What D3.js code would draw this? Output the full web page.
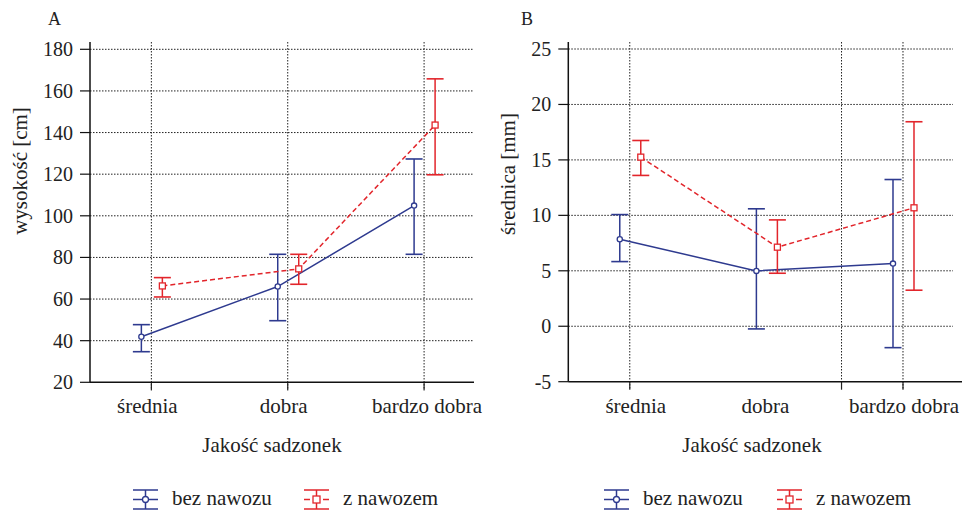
<!DOCTYPE html>
<html>
<head>
<meta charset="utf-8">
<script src="https://cdn.jsdelivr.net/npm/d3@7"></script>
<style>
  body{margin:0;background:#fff;}
  svg text{font-family:"Liberation Serif","Times New Roman",Times,"DejaVu Serif",serif;fill:#222;}
</style>
</head>
<body>
<svg width="962" height="510"></svg>
<script>
// data
const categories=['średnia','dobra','bardzo dobra'];
const seriesNames=['bez nawozu','z nawozem'];

const heightBez=[41.9,66.0,104.9];
const heightBezLo=[34.7,49.6,81.5];
const heightBezHi=[47.7,81.5,127.3];
const heightZ=[66.3,74.5,143.6];
const heightZLo=[61.0,67.1,119.7];
const heightZHi=[70.3,81.5,165.8];

const diaBez=[7.85,4.99,5.65];
const diaBezLo=[5.83,-0.24,-1.93];
const diaBezHi=[10.07,10.59,13.23];
const diaZ=[15.25,7.13,10.68];
const diaZLo=[13.6,4.78,3.25];
const diaZHi=[16.75,9.59,18.44];

const heightTicks=[20,40,60,80,100,120,140,160,180];
const diaTicks=[-5,0,5,10,15,20,25];
// vertical grid positions (category index); panel B grid is offset in the original
const gridA=[0,1,2];
const gridB=[0,1.55,2];

const blue='#2e3a8f', red='#e2252b';
const FONT='"Liberation Serif","Times New Roman",Times,"DejaVu Serif",serif';
const svg=d3.select('svg');

const panel=(o)=>{
  const g=svg.append('g').attr('font-family',FONT);
  const x=d3.scaleLinear().domain([-0.45,2.366]).range([o.left,o.right]);
  const y=d3.scaleLinear().domain(o.domain).range([o.bottom,o.top]);

  // grid
  g.selectAll('.hg').data(o.ticks.slice(1)).enter().append('line')
    .attr('x1',o.left).attr('x2',o.right)
    .attr('y1',d=>y(d)).attr('y2',d=>y(d))
    .attr('stroke','#222').attr('stroke-width',1).attr('stroke-dasharray','1.5,1.5');
  g.selectAll('.vg').data(o.grid).enter().append('line')
    .attr('x1',d=>x(d)).attr('x2',d=>x(d))
    .attr('y1',o.axisTop).attr('y2',o.bottom+8)
    .attr('stroke','#222').attr('stroke-width',1).attr('stroke-dasharray','1.5,1.5');
  g.selectAll('.xt').data(o.grid).enter().append('line')
    .attr('x1',d=>x(d)).attr('x2',d=>x(d))
    .attr('y1',o.bottom).attr('y2',o.bottom+8)
    .attr('stroke','#222').attr('stroke-width',1.2);

  // axes
  g.append('line').attr('x1',o.left).attr('x2',o.left).attr('y1',o.axisTop).attr('y2',o.bottom)
    .attr('stroke','#111').attr('stroke-width',1.5);
  g.append('line').attr('x1',o.left).attr('x2',o.axisRight).attr('y1',o.bottom).attr('y2',o.bottom)
    .attr('stroke','#111').attr('stroke-width',1.5);
  g.selectAll('.yt').data(o.ticks).enter().append('line')
    .attr('x1',o.left-10).attr('x2',o.left)
    .attr('y1',d=>y(d)).attr('y2',d=>y(d))
    .attr('stroke','#111').attr('stroke-width',1.2);
  g.selectAll('.yl').data(o.ticks).enter().append('text')
    .attr('x',o.left-17).attr('y',d=>y(d)+7)
    .attr('text-anchor','end').attr('font-size',20)
    .text(d=>d);

  g.selectAll('.xl').data(categories).enter().append('text')
    .attr('x',(d,i)=>x(i)+o.labelShift[i]).attr('y',o.bottom+31)
    .attr('text-anchor','middle').attr('font-size',21)
    .text(d=>d);

  g.append('text').attr('x',o.xTitleX).attr('y',o.bottom+70)
    .attr('text-anchor','middle').attr('font-size',21).text('Jakość sadzonek');
  g.append('text').attr('transform',`translate(${o.yTitleX},${o.yTitleY}) rotate(-90)`)
    .attr('text-anchor','middle').attr('dy','0.32em').attr('font-size',21).text(o.yTitle);
  g.append('text').attr('x',o.letterX).attr('y',25).attr('font-size',18).text(o.letter);

  // series
  o.series.forEach((s,k)=>{
    const dx=k===0?-10:11;
    const col=k===0?blue:red;
    const pts=s.v.map((v,i)=>[x(i)+dx,y(v)]);
    g.append('path').attr('d',d3.line()(pts)).attr('fill','none')
      .attr('stroke',col).attr('stroke-width',1.5)
      .attr('stroke-dasharray',k===0?null:'5,3');
    s.v.forEach((v,i)=>{
      const cx=x(i)+dx;
      g.append('line').attr('x1',cx).attr('x2',cx).attr('y1',y(s.lo[i])).attr('y2',y(s.hi[i]))
        .attr('stroke',col).attr('stroke-width',1.5);
      [s.lo[i],s.hi[i]].forEach(e=>g.append('line')
        .attr('x1',cx-8.5).attr('x2',cx+8.5).attr('y1',y(e)).attr('y2',y(e))
        .attr('stroke',col).attr('stroke-width',1.6));
      if(k===0){
        g.append('circle').attr('cx',cx).attr('cy',y(v)).attr('r',2.6)
          .attr('fill','#fff').attr('stroke',col).attr('stroke-width',1.3);
      }else{
        g.append('rect').attr('x',cx-3).attr('y',y(v)-3).attr('width',6).attr('height',6)
          .attr('fill','#fff').attr('stroke',col).attr('stroke-width',1.3);
      }
    });
  });

  // legend
  o.legendX.forEach((lx,k)=>{
    const col=k===0?blue:red;
    const cy=499.5, w=25, cx=lx+w/2;
    const lg=g.append('g');
    if(k===0){
      lg.append('line').attr('x1',lx).attr('x2',lx+w).attr('y1',cy).attr('y2',cy)
        .attr('stroke',col).attr('stroke-width',1.5);
    }else{
      lg.append('line').attr('x1',lx).attr('x2',lx+6).attr('y1',cy).attr('y2',cy).attr('stroke',col).attr('stroke-width',1.5);
      lg.append('line').attr('x1',lx+w-6).attr('x2',lx+w).attr('y1',cy).attr('y2',cy).attr('stroke',col).attr('stroke-width',1.5);
    }
    lg.append('line').attr('x1',cx).attr('x2',cx).attr('y1',490).attr('y2',509).attr('stroke',col).attr('stroke-width',1.5);
    [490,509].forEach(yy=>lg.append('line').attr('x1',lx).attr('x2',lx+w).attr('y1',yy).attr('y2',yy)
      .attr('stroke',col).attr('stroke-width',1.5));
    if(k===0){
      lg.append('circle').attr('cx',cx).attr('cy',cy).attr('r',3).attr('fill','#fff').attr('stroke',col).attr('stroke-width',1.3);
    }else{
      lg.append('rect').attr('x',cx-3.5).attr('y',cy-3.5).attr('width',7).attr('height',7).attr('fill','#fff').attr('stroke',col).attr('stroke-width',1.3);
    }
    lg.append('text').attr('x',lx+w+14).attr('y',505).attr('font-size',21).text(seriesNames[k]);
  });
};

panel({
  left:90,right:474,axisRight:474,top:49.3,bottom:382.3,axisTop:42,
  domain:[20,180],ticks:heightTicks,grid:gridA,
  labelShift:[-4,-4,3],
  xTitleX:272,yTitleX:20,yTitleY:171,yTitle:'wysokość [cm]',
  letter:'A',letterX:48,
  series:[{v:heightBez,lo:heightBezLo,hi:heightBezHi},{v:heightZ,lo:heightZLo,hi:heightZHi}],
  legendX:[133,304]
});
panel({
  left:568.3,right:953,axisRight:962,top:49,bottom:381.7,axisTop:42,
  domain:[-5,25],ticks:diaTicks,grid:gridB,
  labelShift:[6,-1,1],
  xTitleX:752,yTitleX:508,yTitleY:174,yTitle:'średnica [mm]',
  letter:'B',letterX:521,
  series:[{v:diaBez,lo:diaBezLo,hi:diaBezHi},{v:diaZ,lo:diaZLo,hi:diaZHi}],
  legendX:[604,777]
});
</script>
</body>
</html>
